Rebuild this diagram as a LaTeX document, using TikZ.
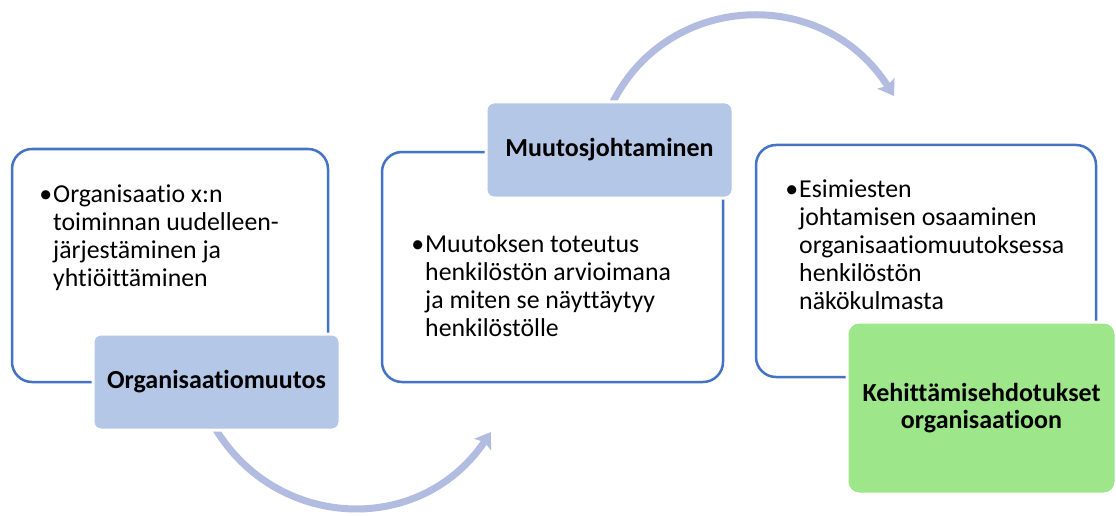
\documentclass[tikz,border=0pt]{standalone}
\usepackage{fontspec}
\setmainfont{Carlito}[Ligatures=NoCommon]
\usetikzlibrary{arrows.meta}
\definecolor{boxblue}{HTML}{4472C4}
\definecolor{labblue}{HTML}{B4C7E7}
\definecolor{arrblue}{HTML}{B2BCE0}
\definecolor{labgreen}{HTML}{9EE68A}
\begin{document}
\begin{tikzpicture}[x=1pt,y=-1pt,
  panel/.style={draw=boxblue,line width=2.5pt,fill=white,rounded corners=20pt,inner sep=0pt},
  label/.style={draw=white,line width=3pt,fill=labblue,rounded corners=8pt,inner sep=0pt,
    font=\fontsize{26}{27}\selectfont\bfseries,align=center},
  glabel/.style={label,fill=labgreen,rounded corners=12pt},
  body/.style={inner sep=0pt,anchor=base west,align=left,font=\fontsize{25.8}{28}\selectfont},
  flow/.style={draw=arrblue,line width=7pt,-{Stealth[length=15pt,width=20pt,inset=3pt]}}]
\useasboundingbox (0,0) rectangle (1116,516);
\fill[white] (0,0) rectangle (1116,516);
% curved arrows (behind)
\coordinate (a1s) at (215,428);
\coordinate (a1e) at (491,432);
\coordinate (a2s) at (611,106);
\coordinate (a2e) at (894,96);
\draw[flow] (a1s) .. controls (276,530) and (420,537) .. (a1e);
\draw[flow] (a2s) .. controls (665,-8) and (823,-16) .. (a2e);
% panels
\node[panel,minimum width=316,minimum height=233] (box1) at (170,265.5) {};
\node[panel,minimum width=341,minimum height=230] (box2) at (552.5,267) {};
\node[panel,minimum width=340,minimum height=232] (box3) at (926,261) {};
% body texts (anchor = baseline of the last line)
\node[body] (t1) at (53,286) {\llap{•\hspace{1pt}}Organisaatio x:n\\toiminnan uudelleen-\\järjestäminen ja\\yhtiöittäminen};
\node[body] (t2) at (425,336) {\llap{•\hspace{1pt}}Muutoksen toteutus\\henkilöstön arvioimana\\ja miten se näyttäytyy\\henkilöstölle};
\node[body] (t3) at (799,309) {\llap{•\hspace{1pt}}Esimiesten\\johtamisen osaaminen\\organisaatiomuutoksessa\\henkilöstön\\näkökulmasta};
% labels
\node[label,minimum width=247,minimum height=96] (lab1) at (216.5,382) {Organisaatiomuutos};
\node[label,minimum width=247,minimum height=96] (lab2) at (609.5,150) {Muutosjohtaminen};
\node[glabel,minimum width=269,minimum height=172] (lab3) at (981.5,408) {Kehittämisehdotukset\\organisaatioon};
\end{tikzpicture}
\end{document}
